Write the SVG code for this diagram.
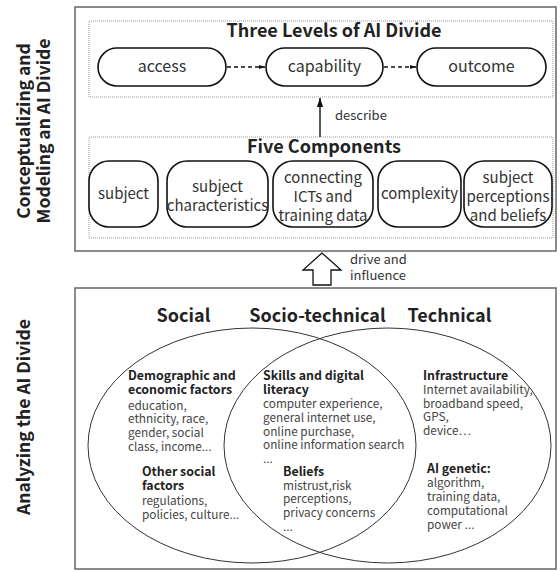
<svg xmlns="http://www.w3.org/2000/svg" width="560" height="571" viewBox="0 0 560 571">
<style>
text{font-family:"Noto Sans CJK SC","Source Sans Pro","Noto Sans",sans-serif;fill:#222}
.frame{fill:none;stroke:#666;stroke-width:1.5}
.dot{fill:none;stroke:#999;stroke-width:1;stroke-dasharray:1 1}
.pill{fill:#fff;stroke:#111;stroke-width:1.6}
.side{font-size:17.5px;font-weight:bold}
.title{font-size:18px;font-weight:bold;text-anchor:middle}
.pt{font-size:16px;text-anchor:middle;fill:#333}
.ct{font-size:15px;text-anchor:middle;fill:#333}
.lbl{font-size:13px;fill:#333}
.h{font-size:12.4px;font-weight:bold;fill:#222}
.b{font-size:11.8px;fill:#444}
.venn{fill:none;stroke:#333;stroke-width:1}
.dash{stroke:#111;stroke-width:1.6;stroke-dasharray:4 3;fill:none}
</style>
<defs>
<marker id="ah" viewBox="0 0 10 10" refX="10" refY="5" markerWidth="6" markerHeight="6" markerUnits="userSpaceOnUse" orient="auto">
<path d="M0,1.5 L10,5 L0,8.5 z" fill="#111"/>
</marker>
<marker id="ah2" viewBox="0 0 10 10" refX="10" refY="5" markerWidth="9" markerHeight="9" markerUnits="userSpaceOnUse" orient="auto">
<path d="M0,1.5 L10,5 L0,8.5 z" fill="#111"/>
</marker>
</defs>

<g id="side-labels">
<text class="side" transform="translate(30,131) rotate(-90)" text-anchor="middle">Conceptualizing and</text>
<text class="side" transform="translate(50,131) rotate(-90)" text-anchor="middle">Modeling an AI Divide</text>
<text class="side" transform="translate(30,417) rotate(-90)" text-anchor="middle">Analyzing the AI Divide</text>
</g>

<g id="frame-top"><rect class="frame" x="75" y="7" width="481" height="244"/></g>
<g id="frame-bottom"><rect class="frame" x="75" y="288" width="481" height="281"/></g>

<g id="three-levels">
<rect class="dot" x="89" y="21" width="464" height="76"/>
<text class="title" x="334" y="37">Three Levels of AI Divide</text>
</g>
<g id="access"><rect class="pill" x="98" y="48" width="128" height="38" rx="19"/><text class="pt" x="162" y="72">access</text></g>
<g id="capability"><rect class="pill" x="266" y="48" width="117" height="38" rx="19"/><text class="pt" x="324.5" y="72">capability</text></g>
<g id="outcome"><rect class="pill" x="417" y="48" width="129" height="38" rx="19"/><text class="pt" x="481.5" y="72">outcome</text></g>

<g id="five-components">
<rect class="dot" x="89" y="137" width="464" height="101"/>
<text class="title" x="324" y="153">Five Components</text>
</g>
<g id="subject"><rect class="pill" x="89" y="161" width="69" height="66" rx="20"/><text class="ct" x="123.5" y="199">subject</text></g>
<g id="subject-characteristics"><rect class="pill" x="167" y="161" width="101" height="66" rx="20"/><text class="ct" x="217.5" y="192">subject</text><text class="ct" x="217.5" y="211">characteristics</text></g>
<g id="connecting"><rect class="pill" x="273" y="161" width="100" height="66" rx="20"/><text class="ct" x="323" y="183">connecting</text><text class="ct" x="323" y="202">ICTs and</text><text class="ct" x="323" y="221">training data</text></g>
<g id="complexity"><rect class="pill" x="378" y="161" width="83" height="66" rx="20"/><text class="ct" x="419.5" y="199">complexity</text></g>
<g id="perceptions"><rect class="pill" x="464" y="161" width="88" height="66" rx="20"/><text class="ct" x="508" y="183">subject</text><text class="ct" x="508" y="202">perceptions</text><text class="ct" x="508" y="221">and beliefs</text></g>

<g id="connectors">
<line class="dash" x1="227" y1="67" x2="265" y2="67" marker-end="url(#ah)"/>
<line class="dash" x1="384" y1="67" x2="416" y2="67" marker-end="url(#ah)"/>
<line x1="320" y1="137" x2="320" y2="98" stroke="#111" stroke-width="1.4" marker-end="url(#ah2)"/>
<text class="lbl" x="335" y="120">describe</text>
<polygon points="322,253 303,270 313,270 313,285 331,285 331,270 341,270" fill="#fff" stroke="#111" stroke-width="1.3"/>
<text class="lbl" x="350" y="264">drive and</text>
<text class="lbl" x="350" y="280">influence</text>
</g>

<g id="social">
<ellipse class="venn" cx="252" cy="445.5" rx="164" ry="117.5"/>
<text class="title" x="183.5" y="322">Social</text>
<text class="h" x="128" y="380">Demographic  and</text>
<text class="h" x="128" y="394">economic factors</text>
<text class="b" x="128" y="410">education,</text>
<text class="b" x="128" y="423">ethnicity, race,</text>
<text class="b" x="128" y="437">gender, social</text>
<text class="b" x="128" y="451">class, income...</text>
<text class="h" x="142" y="476">Other social</text>
<text class="h" x="142" y="490">factors</text>
<text class="b" x="142" y="505">regulations,</text>
<text class="b" x="142" y="519">policies, culture...</text>
</g>
<g id="socio-technical">
<text class="title" x="317.5" y="322">Socio-technical</text>
<text class="h" x="263" y="380">Skills and digital</text>
<text class="h" x="263" y="394">literacy</text>
<text class="b" x="263" y="408">computer experience,</text>
<text class="b" x="263" y="422">general internet use,</text>
<text class="b" x="263" y="436">online purchase,</text>
<text class="b" x="263" y="449">online information search</text>
<text class="b" x="263" y="463">...</text>
<text class="h" x="283" y="476">Beliefs</text>
<text class="b" x="283" y="490">mistrust,risk</text>
<text class="b" x="283" y="503">perceptions,</text>
<text class="b" x="283" y="517">privacy concerns</text>
<text class="b" x="283" y="531">...</text>
</g>
<g id="technical">
<ellipse class="venn" cx="387.5" cy="445.5" rx="163.5" ry="117.5"/>
<text class="title" x="449.5" y="322">Technical</text>
<text class="h" x="423" y="380">Infrastructure</text>
<text class="b" x="423" y="394">Internet availability,</text>
<text class="b" x="423" y="408">broadband speed,</text>
<text class="b" x="423" y="421">GPS,</text>
<text class="b" x="423" y="435">device…</text>
<text class="h" x="427" y="473">AI genetic:</text>
<text class="b" x="427" y="487">algorithm,</text>
<text class="b" x="427" y="501">training data,</text>
<text class="b" x="427" y="515">computational</text>
<text class="b" x="427" y="529">power ...</text>
</g>
</svg>
